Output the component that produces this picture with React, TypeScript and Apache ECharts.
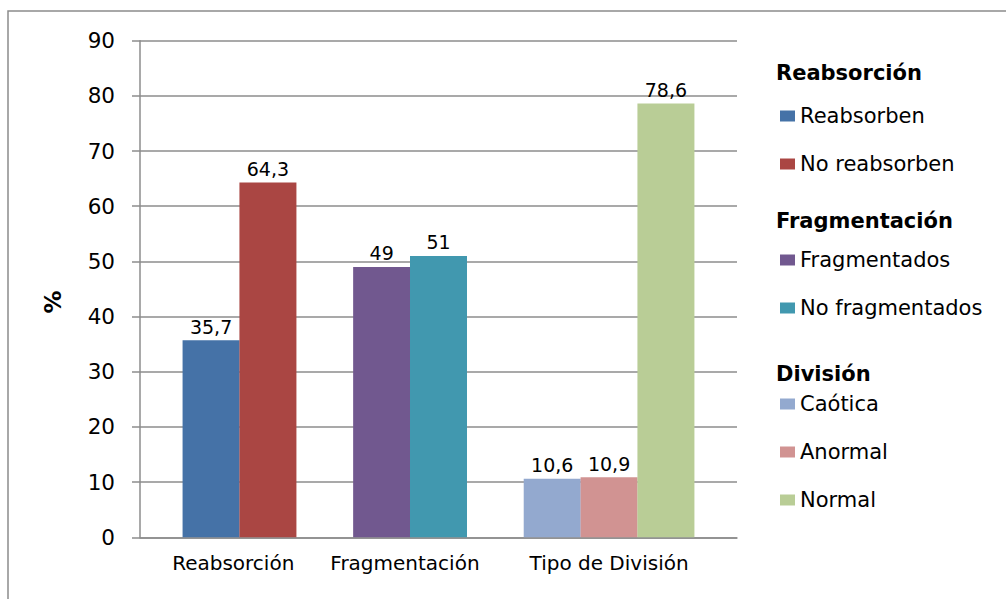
import React, { useEffect, useRef } from "react";
import * as echarts from "echarts";

const categories = ["Reabsorción", "Fragmentación", "Tipo de División"];
const groupTitles = ["Reabsorción", "Fragmentación", "División"];
const groupSeries = [
  ["Reabsorben", "No reabsorben"],
  ["Fragmentados", "No fragmentados"],
  ["Caótica", "Anormal", "Normal"],
];
const groupValues = [
  [35.7, 64.3],
  [49, 51],
  [10.6, 10.9, 78.6],
];
const yTicks = [0, 10, 20, 30, 40, 50, 60, 70, 80, 90];

const colors = ["#4572A7", "#AA4643", "#71588F", "#4198AF", "#93A9CF", "#D19392", "#B9CD96"];
const FONT = "DejaVu Sans";
const GRID = "#8c8c8c";

export default function App() {
  const ref = useRef<HTMLDivElement>(null);
  useEffect(() => {
    if (!ref.current) return;
    const chart = echarts.init(ref.current, undefined, { renderer: "svg" });
    // layout in units of one bar width along the x axis
    const firstBar = 0.75;
    const groupStep = 3;
    const labelPos = [1.64, 4.66, 8.25];
    const series: any[] = [];
    let k = 0;
    groupSeries.forEach((names, g) => {
      names.forEach((name, i) => {
        const x = firstBar + groupStep * g + i + 0.5;
        series.push({
          type: "bar",
          name,
          data: [[x, groupValues[g][i]]],
          barWidth: 57,
          barGap: "-100%",
          itemStyle: { color: colors[k] },
          label: {
            show: true,
            position: "top",
            distance: 4,
            fontFamily: FONT,
            fontSize: 19,
            color: "#000",
            formatter: (p: any) => String(p.value[1]).replace(".", ","),
          },
        });
        k++;
      });
    });
    const legendTops = [105, 249, 393];
    const headerY = [73, 221, 374];
    chart.setOption({
      animation: false,
      grid: { left: 140, right: 269, top: 40.7, bottom: 61.7 },
      xAxis: {
        type: "value",
        min: 0,
        max: 10.5,
        splitLine: { show: false },
        axisLine: { show: true, lineStyle: { color: GRID, width: 1.5 } },
        axisTick: { show: false },
        axisLabel: {
          customValues: labelPos,
          fontFamily: FONT,
          fontSize: 20,
          color: "#000",
          margin: 16,
          formatter: (v: number) => {
            const idx = labelPos.findIndex((p) => Math.abs(p - v) < 1e-6);
            return idx >= 0 ? categories[idx] : "";
          },
        },
      },
      yAxis: {
        type: "value",
        min: 0,
        max: 90,
        interval: 10,
        axisLine: { show: true, lineStyle: { color: GRID, width: 1.5 } },
        axisTick: { show: true, length: 8, lineStyle: { color: GRID, width: 1.5 } },
        splitLine: { show: true, lineStyle: { color: GRID, width: 1.5 } },
        axisLabel: {
          fontFamily: FONT,
          fontSize: 21.5,
          color: "#000",
          margin: 25,
          formatter: (v: number) => (yTicks.includes(v) ? String(v) : ""),
        },
      },
      legend: groupSeries.map((names, g) => ({
        data: names,
        orient: "vertical",
        left: 780,
        top: legendTops[g],
        padding: 0,
        itemGap: 26,
        itemWidth: 15,
        itemHeight: 11,
        icon: "rect",
        selectedMode: false,
        textStyle: { fontFamily: FONT, fontSize: 21, color: "#000", lineHeight: 22 },
      })),
      graphic: [
        {
          type: "rect",
          shape: { x: 8, y: 11, width: 1100, height: 700 },
          style: { fill: "none", stroke: GRID, lineWidth: 1.5 },
          silent: true,
        },
        {
          type: "text",
          x: 53,
          y: 302,
          rotation: Math.PI / 2,
          style: {
            text: "%",
            fontFamily: FONT,
            fontSize: 23,
            fontWeight: "bold",
            fill: "#000",
            align: "center",
            verticalAlign: "middle",
          },
        },
        ...groupTitles.map((t, g) => ({
          type: "text",
          x: 776,
          y: headerY[g],
          style: {
            text: t,
            fontFamily: FONT,
            fontSize: 21,
            fontWeight: "bold",
            fill: "#000",
            align: "left",
            verticalAlign: "middle",
          },
        })),
      ],
      series,
    });
    return () => chart.dispose();
  }, []);
  return (
    <div
      ref={ref}
      style={{ position: "fixed", left: 0, top: 0, width: 1006, height: 599, background: "#fff" }}
    />
  );
}
